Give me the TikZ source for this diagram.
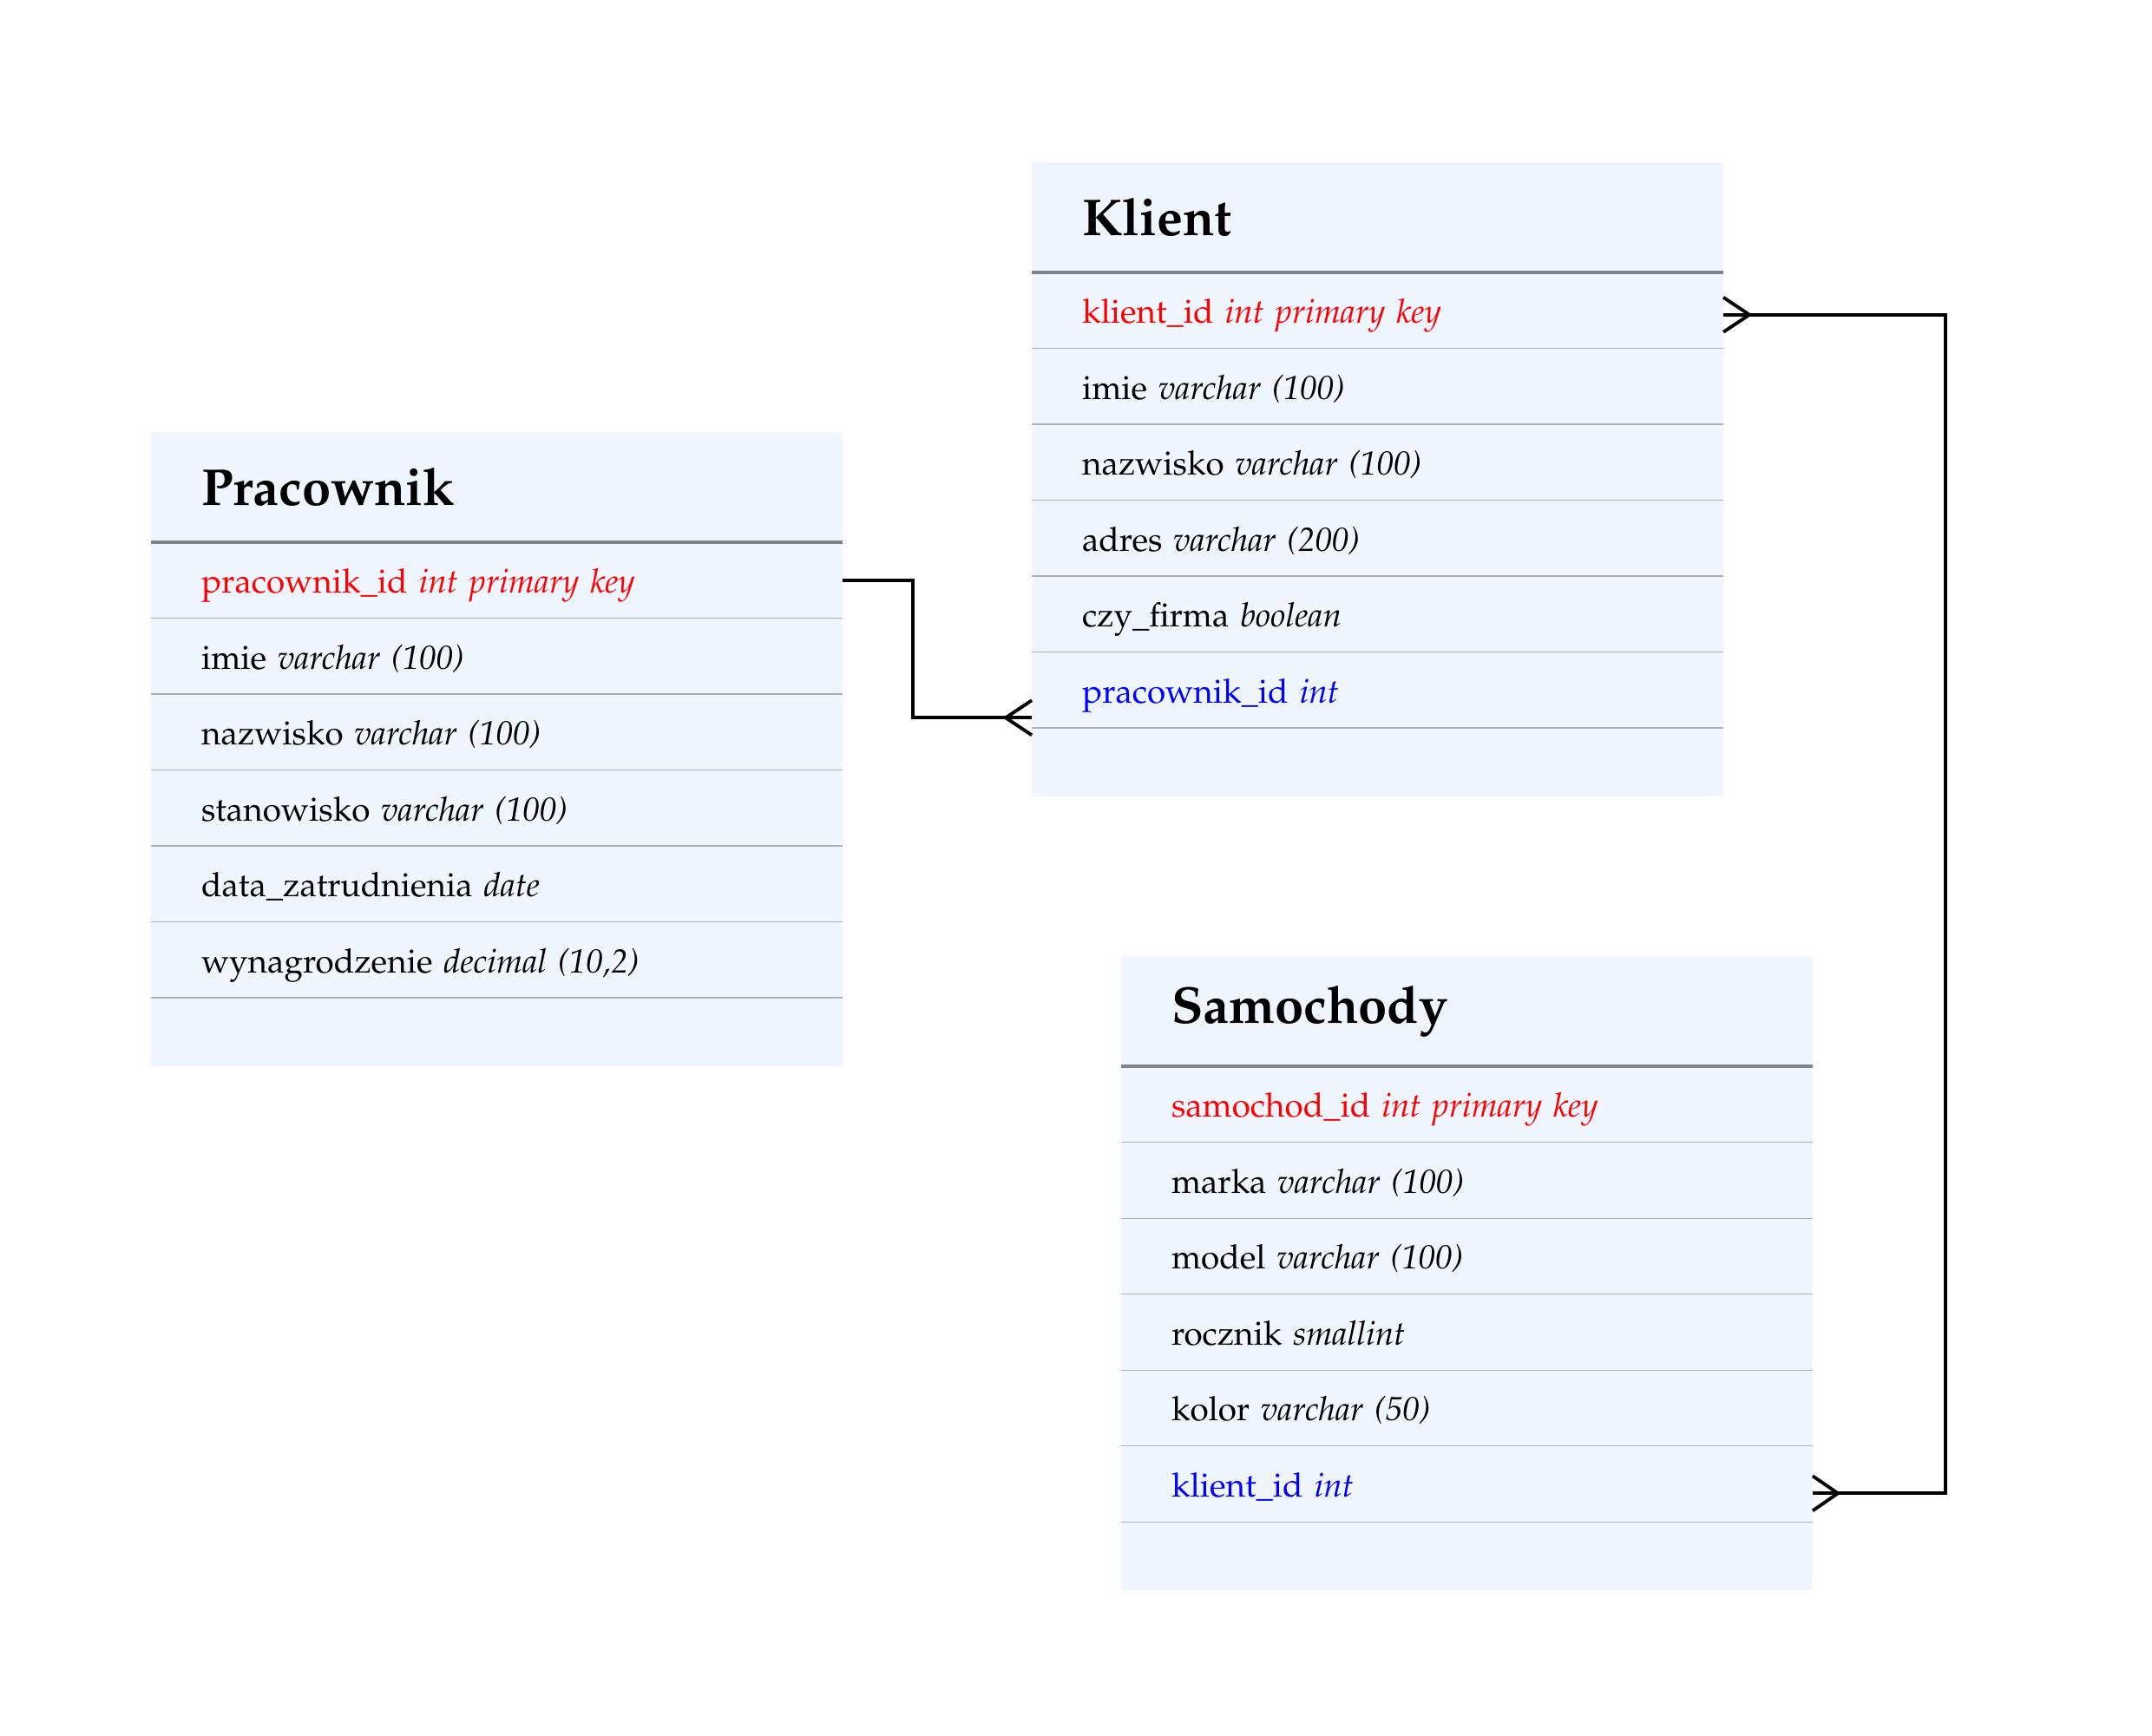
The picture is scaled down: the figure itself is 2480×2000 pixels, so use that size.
\documentclass[tikz,border=0pt]{standalone}
\usepackage[T1]{fontenc}
\usepackage{mathpazo}
\usetikzlibrary{positioning}
\definecolor{tabfill}{RGB}{239,246,255}
\definecolor{headline}{RGB}{128,132,138}
\definecolor{rowline}{RGB}{172,176,186}
\definecolor{pkred}{RGB}{255,0,0}
\definecolor{fkblue}{RGB}{0,0,255}
\begin{document}
\begin{tikzpicture}[x=0.1mm,y=-0.1mm,
  tabhead/.style={fill=tabfill,anchor=north west,inner xsep=5.8mm,inner ysep=0pt,outer sep=0pt,
    text width=68.1mm,align=left,minimum height=12.7mm,
    font=\fontsize{17}{20}\selectfont\bfseries},
  tabfield/.style={fill=tabfill,inner xsep=5.8mm,inner ysep=0pt,outer sep=0pt,
    text width=68.1mm,align=left,minimum height=8.75mm,text height=8.9pt,text depth=0.3pt,
    font=\fontsize{11}{13}\selectfont},
  tabend/.style={fill=tabfill,inner sep=0pt,outer sep=0pt,minimum width=79.7mm,minimum height=7.9mm},
  headsep/.style={draw=headline,line width=0.9pt},
  rowsep/.style={draw=rowline,line width=0.3pt},
  conn/.style={draw=black,line width=1.1pt}]
  \useasboundingbox (0,0) rectangle (2480,2000);

  % Pracownik
  \node[tabhead] (prac) at (174,498) {Pracownik};
  \node[tabfield,below=0pt of prac,text=pkred] (prac-id) {pracownik\_id \textit{int primary key}};
  \node[tabfield,below=0pt of prac-id] (prac-imie) {imie \textit{varchar (100)}};
  \node[tabfield,below=0pt of prac-imie] (prac-nazw) {nazwisko \textit{varchar (100)}};
  \node[tabfield,below=0pt of prac-nazw] (prac-stan) {stanowisko \textit{varchar (100)}};
  \node[tabfield,below=0pt of prac-stan] (prac-data) {data\_zatrudnienia \textit{date}};
  \node[tabfield,below=0pt of prac-data] (prac-wyn) {wynagrodzenie \textit{decimal (10,2)}};
  \node[tabend,below=0pt of prac-wyn] (prac-end) {};

  % Klient
  \node[tabhead] (kl) at (1189,187) {Klient};
  \node[tabfield,below=0pt of kl,text=pkred] (kl-id) {klient\_id \textit{int primary key}};
  \node[tabfield,below=0pt of kl-id] (kl-imie) {imie \textit{varchar (100)}};
  \node[tabfield,below=0pt of kl-imie] (kl-nazw) {nazwisko \textit{varchar (100)}};
  \node[tabfield,below=0pt of kl-nazw] (kl-adres) {adres \textit{varchar (200)}};
  \node[tabfield,below=0pt of kl-adres] (kl-firma) {czy\_firma \textit{boolean}};
  \node[tabfield,below=0pt of kl-firma,text=fkblue] (kl-prac) {pracownik\_id \textit{int}};
  \node[tabend,below=0pt of kl-prac] (kl-end) {};

  % Samochody
  \node[tabhead] (sam) at (1292,1102) {Samochody};
  \node[tabfield,below=0pt of sam,text=pkred] (sam-id) {samochod\_id \textit{int primary key}};
  \node[tabfield,below=0pt of sam-id] (sam-marka) {marka \textit{varchar (100)}};
  \node[tabfield,below=0pt of sam-marka] (sam-model) {model \textit{varchar (100)}};
  \node[tabfield,below=0pt of sam-model] (sam-rocz) {rocznik \textit{smallint}};
  \node[tabfield,below=0pt of sam-rocz] (sam-kolor) {kolor \textit{varchar (50)}};
  \node[tabfield,below=0pt of sam-kolor,text=fkblue] (sam-kl) {klient\_id \textit{int}};
  \node[tabend,below=0pt of sam-kl] (sam-end) {};

  % separators
  \foreach \t in {prac,kl,sam}
    \draw[headsep] (\t.south west) -- (\t.south east);
  \foreach \r in {prac-id,prac-imie,prac-nazw,prac-stan,prac-data,prac-wyn,
                  kl-id,kl-imie,kl-nazw,kl-adres,kl-firma,kl-prac,
                  sam-id,sam-marka,sam-model,sam-rocz,sam-kolor,sam-kl}
    \draw[rowsep] (\r.south west) -- (\r.south east);

  % relations (crow's foot on the many side)
  \coordinate (fk-prac) at ([yshift=-3.2mm]kl-prac.west);
  \draw[conn] (prac-id.east) -- ++(81,0) |- (fk-prac);
  \draw[conn] (fk-prac) ++(-30,0) -- ++(30,-20) (fk-prac) ++(-30,0) -- ++(30,20);

  \coordinate (fk-kl-a) at ([yshift=-0.5mm]kl-id.east);
  \coordinate (fk-kl-b) at ([yshift=-1.1mm]sam-kl.east);
  \draw[conn] (fk-kl-a) -- ++(256,0) |- (fk-kl-b);
  \draw[conn] (fk-kl-a) ++(30,0) -- ++(-30,-20) (fk-kl-a) ++(30,0) -- ++(-30,20);
  \draw[conn] (fk-kl-b) ++(29,0) -- ++(-29,-20) (fk-kl-b) ++(29,0) -- ++(-29,20);
\end{tikzpicture}
\end{document}
